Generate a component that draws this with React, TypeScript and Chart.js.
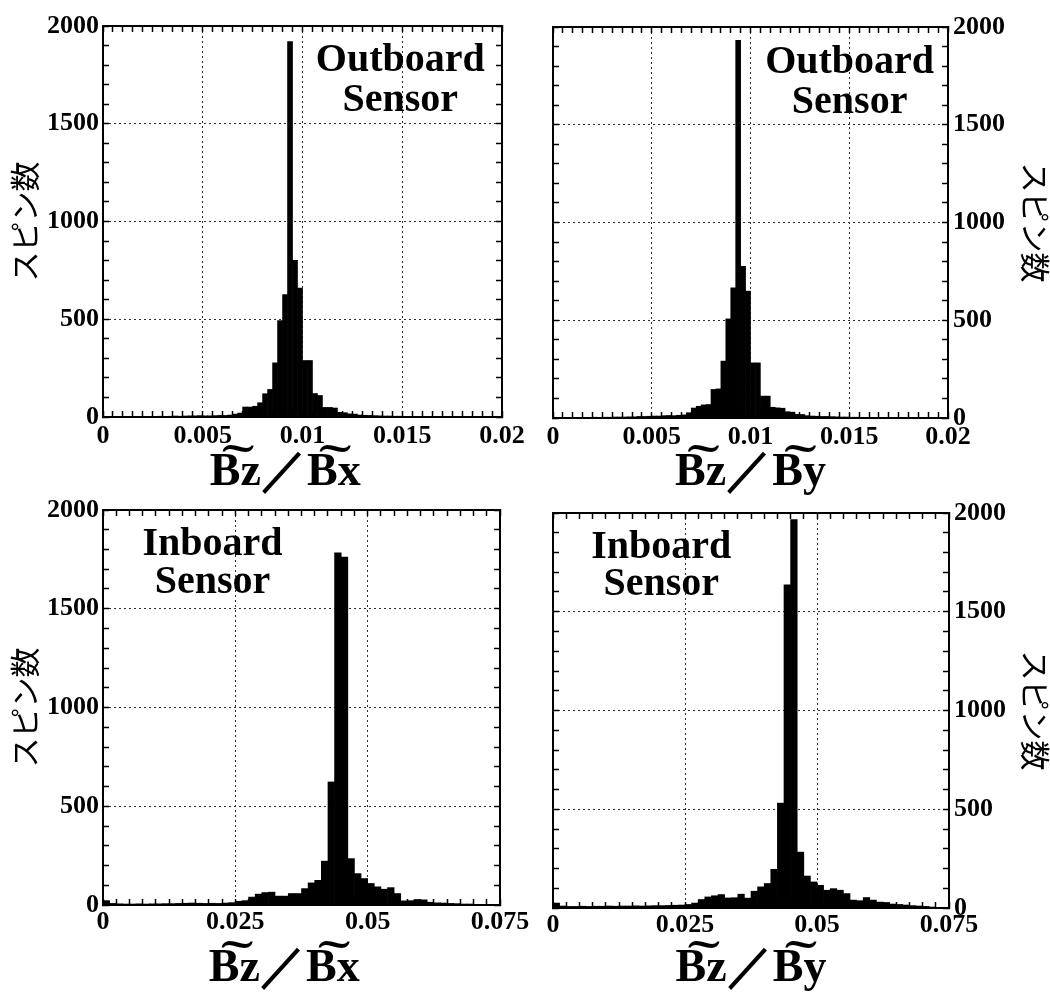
import React, { useEffect, useRef } from "react";
import { Chart, registerables } from "chart.js";

Chart.register(...registerables);

// ---------- data ----------
const outboardBinWidth = 0.00025;
const inboardBinWidth = 0.00125;

// counts per bin, bins start at 0
const outboardBxCounts = [
  2, 1, 2, 1, 3, 2, 2, 3, 2, 3, 3, 4, 3, 4, 5, 4, 5, 6, 6, 7,
  6, 6, 7, 8, 8, 10, 15, 20,
  51, 51, 55, 73, 119, 141, 277, 493, 626, 1920, 801, 660,
  289, 289, 120, 110, 49, 49, 46, 24, 22, 16, 15, 10, 9, 8, 7, 6, 5, 5, 4, 4,
  3, 3, 3, 2, 2, 2, 2, 2, 1, 1, 1, 1, 1, 1, 1, 0, 1, 0, 0, 0,
];
const outboardByCounts = [
  3, 2, 2, 3, 2, 3, 3, 3, 4, 3, 4, 4, 5, 5, 5, 6, 6,
  8, 8, 9, 10, 10, 12, 13, 12, 14, 16,
  27, 51, 60, 67, 69, 146, 149, 291, 507, 666, 1932, 776, 649,
  282, 282, 112, 112, 55, 52, 50, 32, 30, 19, 18, 12, 10, 9, 8, 8, 7, 6, 5, 5,
  4, 4, 3, 3, 3, 3, 2, 2, 2, 2, 2, 1, 1, 1, 1, 1, 1, 0, 0, 0,
];
const inboardBxCounts = [
  22, 8, 6, 5, 5, 6, 5, 6, 6, 7, 7, 8, 9, 10, 9, 8, 9, 8, 10, 12,
  19, 22, 40, 55, 63, 65, 45, 45, 58, 58, 83, 112, 125, 222, 623, 1783, 1761,
  235, 159, 134, 109, 92, 80, 88, 58, 21, 22, 28, 26, 14, 11, 10, 8, 7, 5, 5, 3, 2, 1, 0,
];
const inboardByCounts = [
  25, 10, 8, 8, 9, 8, 9, 9, 10, 9, 10, 10, 11, 10, 11, 12, 12, 13, 14, 15,
  18, 25, 43, 56, 62, 68, 51, 52, 70, 50, 85, 107, 124, 196, 531, 1636, 1967,
  283, 162, 132, 115, 90, 98, 90, 73, 40, 37, 53, 40, 30, 28, 20, 18, 15, 12, 10, 8, 5, 3, 1,
];

const outboardXTicks = { max: 0.02, major: 0.005, minor: 0.0005 };
const inboardXTicks = { max: 0.075, major: 0.025, minor: 0.0025 };
const countTicks = { max: 2000, major: 500, minor: 100 };

const yAxisTitle = "スピン数";
const titleBx = "B\u0360z\uFF0FB\u0360x";
const titleBy = "B\u0360z\uFF0FB\u0360y";
const outboardNote = ["Outboard", "Sensor"];
const inboardNote = ["Inboard", "Sensor"];

// ---------- styling ----------
const SERIF = "'Liberation Serif', 'Times New Roman', Times, serif";
const CJK = "'Noto Sans CJK JP', 'Noto Sans CJK SC', sans-serif";

type Area = { left: number; top: number; right: number; bottom: number };
type PanelSpec = {
  counts: number[];
  binWidth: number;
  xt: { max: number; major: number; minor: number };
  xTitle: string;
  labelSide: "left" | "right";
  note: string[];
  noteX: number;
  noteY: number[];
  pos: { left: number; top: number; width: number; height: number };
  area: Area;
  xLabelPad: number;
};

const near = (v: number, s: number) => Math.abs(v / s - Math.round(v / s)) < 1e-6;
const fmt = (v: number) => String(parseFloat(v.toFixed(6)));

const zeroPad = (s: any) => {
  s.paddingTop = 0;
  s.paddingBottom = 0;
  s.paddingLeft = 0;
  s.paddingRight = 0;
};

function makeConfig(p: PanelSpec): any {
  const W = p.pos.width;
  const H = p.pos.height;
  const a = p.area;
  const labelLeft = p.labelSide === "left";
  const clear = "rgba(0,0,0,0)";
  const majorGrid = (max: number, step: number) => (c: any) => {
    const v = c.tick ? c.tick.value : NaN;
    if (!(v > 1e-12) || Math.abs(v - max) < 1e-9) return clear;
    return near(v, step) ? "#2e2e2e" : clear;
  };
  const tickFont = { family: SERIF, size: 26, weight: "bold", lineHeight: 1.2 };
  const shownGrid = (fn: any) => ({
    display: true,
    drawOnChartArea: true,
    drawTicks: true,
    color: fn,
    lineWidth: 1,
    tickLength: -6,
    tickColor: "#000",
    tickWidth: 1.5,
    offset: false,
  });
  const hiddenGrid = {
    display: true,
    drawOnChartArea: false,
    drawTicks: true,
    color: clear,
    tickLength: -6,
    tickColor: "#000",
    tickWidth: 1.5,
    offset: false,
  };
  const dashedBorder = { display: true, color: "#000", width: 2, dash: [2, 3] };
  const solidBorder = { display: true, color: "#000", width: 2 };

  const data = p.counts.map((c, k) => ({ x: (k + 0.5) * p.binWidth, y: c }));

  const notePlugin = {
    id: "panelNote",
    afterDatasetsDraw(chart: any) {
      const { ctx, scales } = chart;
      const x = scales.x.getPixelForValue(p.noteX);
      ctx.save();
      ctx.font = `bold 40px ${SERIF}`;
      ctx.fillStyle = "#000";
      ctx.textAlign = "center";
      ctx.textBaseline = "middle";
      p.note.forEach((t, i) => ctx.fillText(t, x, scales.y.getPixelForValue(p.noteY[i])));
      ctx.restore();
    },
  };

  return {
    type: "bar",
    data: {
      datasets: [
        {
          data,
          backgroundColor: "#000",
          borderWidth: 0,
          barPercentage: 1,
          categoryPercentage: 1,
          grouped: false,
          xAxisID: "x",
          yAxisID: "y",
        },
      ],
    },
    plugins: [notePlugin],
    options: {
      animation: false,
      responsive: false,
      maintainAspectRatio: false,
      devicePixelRatio: 1,
      layout: {
        padding: {
          top: a.top,
          left: labelLeft ? 0 : a.left,
          right: labelLeft ? W - a.right : 0,
          bottom: 0,
        },
      },
      plugins: { legend: { display: false }, tooltip: { enabled: false }, title: { display: false } },
      scales: {
        x: {
          type: "linear",
          axis: "x",
          position: "bottom",
          min: 0,
          max: p.xt.max,
          offset: false,
          grid: shownGrid(majorGrid(p.xt.max, p.xt.major)),
          border: dashedBorder,
          ticks: {
            stepSize: p.xt.minor,
            autoSkip: false,
            maxRotation: 0,
            minRotation: 0,
            padding: p.xLabelPad,
            color: "#000",
            font: tickFont,
            callback: (v: number) => (near(v, p.xt.major) ? fmt(v) : ""),
          },
          title: {
            display: true,
            text: p.xTitle,
            color: "#000",
            font: { family: SERIF, size: 46, weight: "bold", lineHeight: 1 },
            padding: { top: 0, bottom: 0 },
          },
          afterFit: (s: any) => {
            s.height = H - a.bottom;
            zeroPad(s);
          },
        },
        xTop: {
          type: "linear",
          axis: "x",
          position: "top",
          min: 0,
          max: p.xt.max,
          offset: false,
          grid: hiddenGrid,
          border: solidBorder,
          ticks: { display: false, stepSize: p.xt.minor, autoSkip: false },
          afterFit: (s: any) => {
            s.height = 0;
            zeroPad(s);
          },
        },
        y: {
          type: "linear",
          axis: "y",
          position: labelLeft ? "left" : "right",
          min: 0,
          max: countTicks.max,
          grid: shownGrid(majorGrid(countTicks.max, countTicks.major)),
          border: dashedBorder,
          ticks: {
            stepSize: countTicks.minor,
            autoSkip: false,
            padding: labelLeft ? 10 : 11,
            color: "#000",
            font: tickFont,
            callback: (v: number) => (near(v, countTicks.major) ? String(v) : ""),
          },
          title: {
            display: true,
            text: yAxisTitle,
            color: "#000",
            font: { family: CJK, size: 30, weight: "normal", lineHeight: 1 },
            padding: { top: labelLeft ? 10 : 0, bottom: 0 },
          },
          afterFit: (s: any) => {
            s.width = labelLeft ? a.left : W - a.right;
            zeroPad(s);
          },
        },
        yOther: {
          type: "linear",
          axis: "y",
          position: labelLeft ? "right" : "left",
          min: 0,
          max: countTicks.max,
          grid: hiddenGrid,
          border: solidBorder,
          ticks: { display: false, stepSize: countTicks.minor, autoSkip: false },
          afterFit: (s: any) => {
            s.width = 0;
            zeroPad(s);
          },
        },
      },
    },
  };
}

const panels: PanelSpec[] = [
  {
    counts: outboardBxCounts,
    binWidth: outboardBinWidth,
    xt: outboardXTicks,
    xTitle: titleBx + "   ",
    labelSide: "left",
    note: outboardNote,
    noteX: 0.0149,
    noteY: [1825, 1618],
    pos: { left: 0, top: 0, width: 545, height: 496 },
    area: { left: 103, top: 26, right: 502, bottom: 417 },
    xLabelPad: 10,
  },
  {
    counts: outboardByCounts,
    binWidth: outboardBinWidth,
    xt: outboardXTicks,
    xTitle: titleBy,
    labelSide: "right",
    note: outboardNote,
    noteX: 0.01502,
    noteY: [1818, 1614],
    pos: { left: 525, top: 0, width: 525, height: 496 },
    area: { left: 28, top: 27, right: 423, bottom: 418 },
    xLabelPad: 10,
  },
  {
    counts: inboardBxCounts,
    binWidth: inboardBinWidth,
    xt: inboardXTicks,
    xTitle: titleBx + "   ",
    labelSide: "left",
    note: inboardNote,
    noteX: 0.0207,
    noteY: [1823, 1630],
    pos: { left: 0, top: 496, width: 545, height: 496 },
    area: { left: 103, top: 14, right: 500, bottom: 409 },
    xLabelPad: 8,
  },
  {
    counts: inboardByCounts,
    binWidth: inboardBinWidth,
    xt: inboardXTicks,
    xTitle: titleBy,
    labelSide: "right",
    note: inboardNote,
    noteX: 0.0205,
    noteY: [1823, 1635],
    pos: { left: 525, top: 496, width: 525, height: 496 },
    area: { left: 28, top: 17, right: 424, bottom: 412 },
    xLabelPad: 8,
  },
];

function HistPanel({ spec }: { spec: PanelSpec }) {
  const ref = useRef<HTMLCanvasElement | null>(null);
  useEffect(() => {
    if (!ref.current) return;
    const chart = new Chart(ref.current, makeConfig(spec));
    return () => chart.destroy();
  }, [spec]);
  return (
    <canvas
      ref={ref}
      width={spec.pos.width}
      height={spec.pos.height}
      style={{
        position: "absolute",
        left: spec.pos.left,
        top: spec.pos.top,
        width: spec.pos.width,
        height: spec.pos.height,
      }}
    />
  );
}

export default function App() {
  return (
    <div
      style={{
        position: "absolute",
        left: 0,
        top: 0,
        width: 1050,
        height: 992,
        background: "#fff",
        overflow: "hidden",
      }}
    >
      {panels.map((p, i) => (
        <HistPanel key={i} spec={p} />
      ))}
    </div>
  );
}
